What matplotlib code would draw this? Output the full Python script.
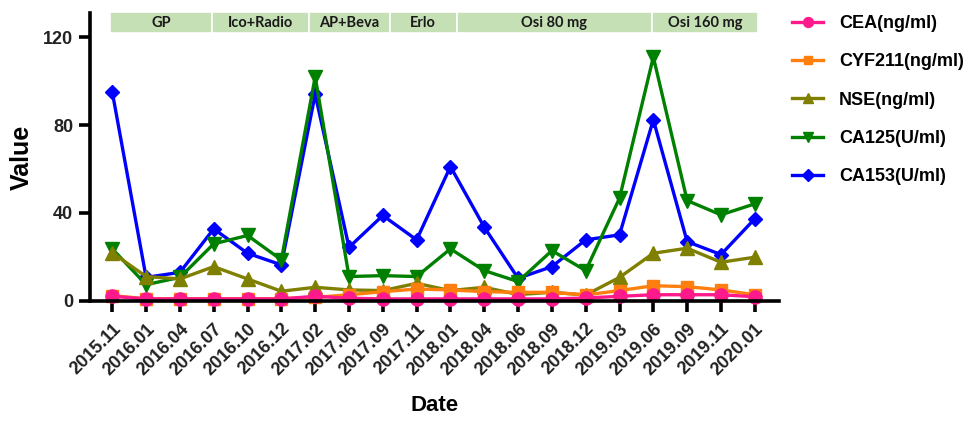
import matplotlib
matplotlib.use("Agg")
import matplotlib.pyplot as plt
from matplotlib.patches import Rectangle

dates = ["2015.11", "2016.01", "2016.04", "2016.07", "2016.10", "2016.12",
         "2017.02", "2017.06", "2017.09", "2017.11", "2018.01", "2018.04",
         "2018.06", "2018.09", "2018.12", "2019.03", "2019.06", "2019.09",
         "2019.11", "2020.01"]

cea = [2.0, 0.8, 0.8, 0.8, 0.8, 0.8, 2.0, 1.1, 0.8, 0.8,
       0.8, 0.8, 0.8, 0.8, 1.2, 2.0, 2.7, 2.7, 2.7, 1.8]
cyf211 = [2.3, 0.9, 0.9, 0.9, 0.9, 0.9, 1.5, 2.7, 4.1, 5.3,
          4.9, 4.1, 3.8, 3.8, 2.6, 4.6, 6.8, 6.4, 4.9, 2.7]
nse = [21.8, 11.0, 9.9, 15.5, 9.9, 4.3, 6.1, 4.9, 4.6, 7.9,
       4.6, 6.1, 2.8, 3.8, 2.6, 10.6, 21.6, 23.9, 17.5, 19.8]
ca125 = [23.6, 7.3, 10.6, 25.9, 29.7, 18.6, 102.0, 11.0, 11.4, 11.0,
         23.6, 13.7, 8.7, 22.8, 13.7, 46.7, 111.0, 45.6, 39.1, 44.1]
ca153 = [95.0, 10.6, 12.9, 32.7, 21.6, 16.3, 94.0, 24.3, 38.8, 27.7,
         61.1, 33.5, 10.2, 15.5, 27.7, 30.0, 82.4, 26.9, 21.0, 37.3]

# treatment phases: name, start, end (in date-index units)
phases = ["GP", "Ico+Radio", "AP+Beva", "Erlo", "Osi 80 mg", "Osi 160 mg"]
phase_edges = [-0.06, 2.94, 5.82, 8.2, 10.18, 15.96, 19.1]

series = [
    ("CA153(U/ml)", ca153, "#0000ff", "D", 7.5),
    ("CA125(U/ml)", ca125, "#008000", "v", 9.5),
    ("NSE(ng/ml)", nse, "#808000", "^", 9.5),
    ("CYF211(ng/ml)", cyf211, "#ff7f0e", "s", 8.5),
    ("CEA(ng/ml)", cea, "#ff1a8c", "o", 9.5),
]

plt.rcParams['font.family'] = ['Liberation Sans', 'DejaVu Sans']
plt.rcParams['font.weight'] = 'bold'

fig = plt.figure(figsize=(9.78, 4.22), dpi=100)
ax = fig.add_axes([0.092, 0.2875, 0.705, 0.6815])

x = list(range(len(dates)))
handles = {}
for name, vals, col, mk, ms in series:
    h, = ax.plot(x, vals, color=col, marker=mk, markersize=ms, linewidth=2.4,
                 label=name, clip_on=False)
    handles[name] = h

ax.set_xlim(-0.66, 19.73)
ax.set_ylim(0, 131)
ax.set_yticks([0, 40, 80, 120])
ax.set_xticks(x)
ax.set_xticklabels(dates, rotation=45, ha="right", rotation_mode="anchor")

for s in ["top", "right"]:
    ax.spines[s].set_visible(False)
for s in ["left", "bottom"]:
    ax.spines[s].set_linewidth(2.6)
ax.tick_params(axis="both", width=2.6, length=8, labelsize=13, pad=4)
ax.tick_params(axis="x", pad=6)

for lab in ax.get_xticklabels() + ax.get_yticklabels():
    lab.set_fontweight("bold")
    lab.set_color("#222222")

ax.set_ylabel("Value", fontsize=18, fontweight="bold")
ax.yaxis.set_label_coords(-0.099, 0.5)
ax.yaxis.label.set_va("center")
ax.set_xlabel("Date", fontsize=16, fontweight="bold")
ax.xaxis.set_label_coords(0.5, -0.363)
ax.xaxis.label.set_va("center")

for i, name in enumerate(phases):
    x0, x1 = phase_edges[i], phase_edges[i + 1]
    ax.add_patch(Rectangle((x0, 122.0), x1 - x0, 9.4, facecolor="#c5e0b4",
                           edgecolor="white", linewidth=1.2, clip_on=False,
                           zorder=1))
    ax.text((x0 + x1) / 2, 126.7, name, ha="center", va="center",
            fontsize=10.5, fontweight="bold", family=["Lato", "DejaVu Sans"],
            color="#1a1a1a")

order = ["CEA(ng/ml)", "CYF211(ng/ml)", "NSE(ng/ml)", "CA125(U/ml)", "CA153(U/ml)"]
leg = ax.legend([handles[n] for n in order], order, loc="upper left",
                bbox_to_anchor=(0.995, 1.05), frameon=False, fontsize=13,
                labelspacing=1.18, handlelength=1.7, handletextpad=0.9,
                markerscale=0.75)
for t in leg.get_texts():
    t.set_fontweight("bold")

fig.savefig("out.png", dpi=100)
